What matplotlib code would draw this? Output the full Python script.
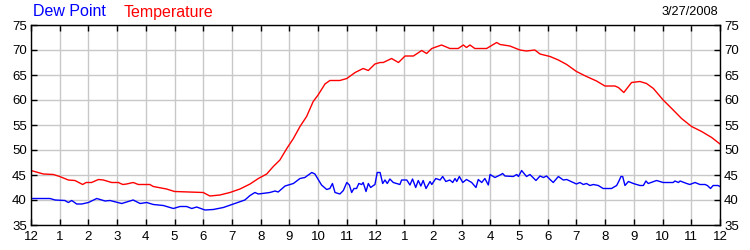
import matplotlib
matplotlib.use("Agg")
import matplotlib.pyplot as plt

plt.rcParams['font.family'] = ['Liberation Sans', 'DejaVu Sans']

# hours after midnight, temperature (F)
temp_h = [0, 0.43, 0.78, 1.0, 1.3, 1.53, 1.8, 1.92, 2.11, 2.35, 2.52, 2.81, 3.04, 3.2,
          3.33, 3.56, 3.74, 4.14, 4.26, 4.72, 5.0, 5.5, 6.0, 6.23, 6.58, 6.93, 7.28,
          7.63, 7.92, 8.21, 8.44, 8.67, 8.91, 9.14, 9.37, 9.6, 9.83, 10.0, 10.24,
          10.41, 10.76, 11.0, 11.29, 11.57, 11.75, 11.98, 12.16, 12.27, 12.56, 12.8,
          13.03, 13.32, 13.61, 13.78, 13.96, 14.3, 14.59, 14.88, 15.06, 15.17, 15.29,
          15.46, 15.87, 16.22, 16.34, 16.68, 17.03, 17.26, 17.55, 17.73, 18.08, 18.37,
          18.66, 19.0, 19.35, 19.7, 19.99, 20.34, 20.46, 20.65, 20.92, 21.21, 21.44,
          21.68, 22.02, 22.37, 22.66, 23.01, 23.36, 23.71, 24.0]
temp_v = [45.9, 45.2, 45.1, 44.7, 44.0, 43.9, 43.1, 43.5, 43.5, 44.1, 44.0, 43.5, 43.5, 43.1,
          43.2, 43.5, 43.1, 43.1, 42.7, 42.2, 41.7, 41.6, 41.5, 40.8, 41.0, 41.5, 42.2,
          43.2, 44.3, 45.2, 46.7, 48.0, 50.3, 52.3, 54.7, 56.7, 59.7, 61.0, 63.2,
          63.9, 63.9, 64.3, 65.5, 66.3, 65.9, 67.2, 67.5, 67.5, 68.3, 67.5,
          68.8, 68.8, 69.9, 69.3, 70.3, 71.0, 70.3, 70.3, 71.0, 70.5, 71.0,
          70.3, 70.3, 71.5, 71.1, 70.8, 70.0, 69.8, 70.0, 69.2, 68.7, 68.0,
          67.1, 65.7, 64.7, 63.8, 62.8, 62.8, 62.5, 61.5, 63.5, 63.7, 63.3,
          62.3, 60.0, 58.0, 56.3, 54.7, 53.7, 52.5, 51.2]

# hours after midnight, dew point (F)
dew_h = [0, 0.66, 0.84, 1.18, 1.3, 1.42, 1.59, 1.77, 2.0, 2.29, 2.58, 2.75, 3.16, 3.56,
         3.8, 4.03, 4.26, 4.61, 4.96, 5.19, 5.42, 5.6, 5.77, 6.06, 6.35, 6.7, 7.05,
         7.45, 7.63, 7.8, 7.92, 8.32, 8.5, 8.61, 8.85, 9.14, 9.37, 9.54, 9.78, 9.89,
         10.12, 10.3, 10.41, 10.5, 10.59, 10.76, 10.88, 11.0, 11.09, 11.17, 11.25,
         11.34, 11.42, 11.52, 11.57, 11.67, 11.75, 11.83, 11.98, 12.06, 12.16, 12.25,
         12.33, 12.41, 12.5, 12.62, 12.85, 12.91, 13.09, 13.2, 13.29, 13.4, 13.49,
         13.58, 13.66, 13.76, 13.9, 13.96, 14.1, 14.25, 14.34, 14.45, 14.59, 14.69,
         14.77, 14.83, 14.92, 15.04, 15.17, 15.35, 15.5, 15.58, 15.7, 15.81, 15.93,
         15.99, 16.16, 16.34, 16.43, 16.51, 16.8, 16.92, 16.98, 17.09, 17.26, 17.38,
         17.59, 17.73, 17.85, 17.96, 18.08, 18.19, 18.37, 18.54, 18.66, 18.89, 19.0,
         19.12, 19.24, 19.35, 19.47, 19.59, 19.76, 19.93, 20.22, 20.4, 20.48, 20.55,
         20.61, 20.69, 20.81, 20.98, 21.21, 21.33, 21.42, 21.5, 21.79, 22.02, 22.37,
         22.43, 22.55, 22.61, 22.84, 22.95, 23.13, 23.3, 23.48, 23.56, 23.67, 23.76,
         23.93, 24.0]
dew_v = [40.3, 40.3, 40.0, 39.9, 39.5, 39.9, 39.2, 39.2, 39.5, 40.3, 39.8, 39.9, 39.3, 40.0,
         39.3, 39.5, 39.1, 38.9, 38.3, 38.7, 38.7, 38.3, 38.6, 38.0, 38.1, 38.5, 39.2,
         40.0, 40.9, 41.5, 41.2, 41.5, 41.8, 41.6, 42.8, 43.3, 44.3, 44.5, 45.5, 45.2,
         43.0, 42.1, 42.3, 43.3, 41.5, 41.2, 41.9, 43.5, 43.0, 41.5, 42.3,
         42.3, 43.3, 43.1, 43.5, 41.7, 43.3, 42.5, 43.1, 45.5, 45.5, 43.3,
         44.0, 43.3, 44.2, 43.5, 43.1, 44.0, 44.0, 43.0, 44.2, 42.5, 43.9,
         42.8, 43.9, 42.3, 43.7, 43.1, 44.3, 44.0, 44.7, 43.7, 44.0, 43.5,
         44.3, 43.7, 44.7, 43.5, 44.1, 43.5, 42.5, 44.1, 43.5, 44.3, 43.0,
         45.1, 44.5, 45.0, 45.3, 44.8, 44.7, 45.1, 44.7, 45.9, 44.7, 45.1,
         43.9, 44.8, 44.5, 44.8, 44.1, 43.5, 44.7, 44.0, 44.1, 43.5, 43.2,
         43.5, 43.1, 43.3, 42.9, 43.1, 42.9, 42.3, 42.3, 42.9, 43.8, 44.7,
         44.7, 42.9, 43.7, 43.3, 42.9, 42.9, 43.8, 43.3, 43.9, 43.5, 43.5,
         43.8, 43.5, 43.8, 43.3, 43.1, 43.5, 43.1, 43.1, 42.9, 42.3, 42.9,
         42.9, 42.7]

hour_labels = ['12', '1', '2', '3', '4', '5', '6', '7', '8', '9', '10', '11',
               '12', '1', '2', '3', '4', '5', '6', '7', '8', '9', '10', '11', '12']
y_ticks = [35, 40, 45, 50, 55, 60, 65, 70, 75]
date_text = '3/27/2008'

fig = plt.figure(figsize=(7.5, 2.5), dpi=100)
ax = fig.add_axes([31 / 750, 25 / 250, 689 / 750, 200 / 250])

ax.plot(dew_h, dew_v, color='#0000ff', lw=1.0)
ax.plot(temp_h, temp_v, color='#ff0000', lw=1.0)

ax.set_xlim(0, 24)
ax.set_ylim(35, 75)
ax.set_xticks(range(25))
ax.set_xticklabels(hour_labels)
ax.set_yticks(y_ticks)
ax.grid(True, color='#c8c8c8', lw=1.0)
ax.set_axisbelow(True)
for s in ax.spines.values():
    s.set_color('black')
    s.set_linewidth(1.0)
ax.tick_params(axis='both', direction='in', length=4, width=1, color='black',
               labelsize=9.5, top=True, right=True, labelright=True)
ax.tick_params(axis='x', pad=4)
ax.tick_params(axis='y', pad=3)

fig.text(33 / 750, 1 - 12 / 250, 'Dew Point', color='#0000ff', fontsize=11.5,
         va='center', ha='left')
fig.text(124 / 750, 1 - 12 / 250, 'Temperature', color='#ff0000', fontsize=11.5,
         va='center', ha='left')
fig.text(718 / 750, 1 - 12 / 250, date_text, color='black', fontsize=9.2,
         va='center', ha='right')

fig.savefig('out.png', dpi=100)
